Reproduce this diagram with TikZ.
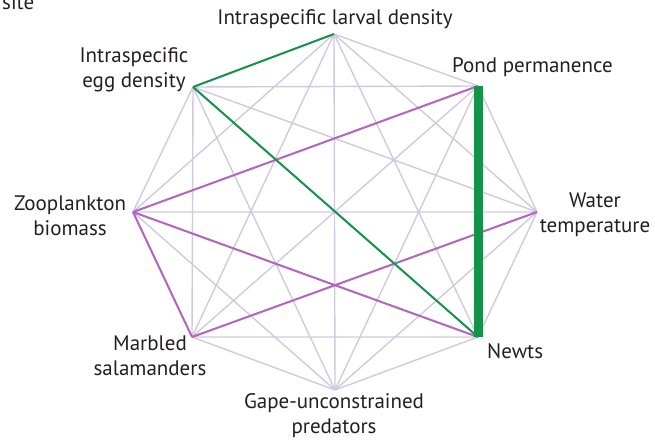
\documentclass[tikz,border=0pt]{standalone}
\usepackage{fontspec}
\setmainfont{PT Sans}
\usetikzlibrary{positioning}
\definecolor{webgrey}{RGB}{208,202,224}
\definecolor{linkpurple}{RGB}{178,102,190}
\definecolor{linkgreen}{RGB}{20,148,72}
\definecolor{labeltext}{RGB}{35,31,32}

\begin{document}
\begin{tikzpicture}[
    x=1pt, y=-1pt,
    lbl/.style={font=\fontsize{21}{25}\selectfont, text=labeltext, align=center, inner sep=0pt},
    web/.style={draw=webgrey, line width=1.4pt},
    neglink/.style={draw=linkpurple, line width=2pt},
    poslink/.style={draw=linkgreen, line width=2pt},
    stronglink/.style={draw=linkgreen, line width=9pt}
]
    \useasboundingbox (0,0) rectangle (655,443);

    % Vertices
    \coordinate (L) at (334,34);
    \coordinate (E) at (193,87);
    \coordinate (P) at (478,86);
    \coordinate (Z) at (133,212);
    \coordinate (W) at (537,212);
    \coordinate (M) at (192,337);
    \coordinate (N) at (478,337);
    \coordinate (G) at (335,390);

    % Labels
    \node[lbl, anchor=base west] (site) at (2,10) {site};
    \node[lbl, anchor=base] (larval) at (335,25) {Intraspecific larval density};
    \node[lbl, anchor=base] (egg) at (134,88) {Intraspecific\\egg density};
    \node[lbl, anchor=base west] (pond) at (452,73) {Pond permanence};
    \node[lbl, anchor=base] (water) at (595,233) {Water\\temperature};
    \node[lbl, anchor=base] (zoo) at (70,236) {Zooplankton\\biomass};
    \node[lbl, anchor=base] (marbled) at (150,375) {Marbled\\salamanders};
    \node[lbl, anchor=base] (gape) at (334,433) {Gape-unconstrained\\predators};
    \node[lbl, anchor=base west] (newts) at (487,358) {Newts};

    % Full web of pairwise associations
    \draw[web] (L) -- (E) (L) -- (P) (L) -- (Z) (L) -- (W) (L) -- (M) (L) -- (N) (L) -- (G)
               (E) -- (P) (E) -- (Z) (E) -- (W) (E) -- (M) (E) -- (N) (E) -- (G)
               (P) -- (Z) (P) -- (W) (P) -- (M) (P) -- (N) (P) -- (G)
               (Z) -- (W) (Z) -- (M) (Z) -- (N) (Z) -- (G)
               (W) -- (M) (W) -- (N) (W) -- (G)
               (M) -- (N) (M) -- (G)
               (N) -- (G);

    % Negative links
    \draw[neglink] (Z) -- (P);
    \draw[neglink] (Z) -- (N);
    \draw[neglink] (Z) -- (M);
    \draw[neglink] (M) -- (W);

    % Positive links
    \draw[poslink] (E) -- (L);
    \draw[poslink] (E) -- (N);
    \draw[stronglink] (P) -- (N);
\end{tikzpicture}
\end{document}
